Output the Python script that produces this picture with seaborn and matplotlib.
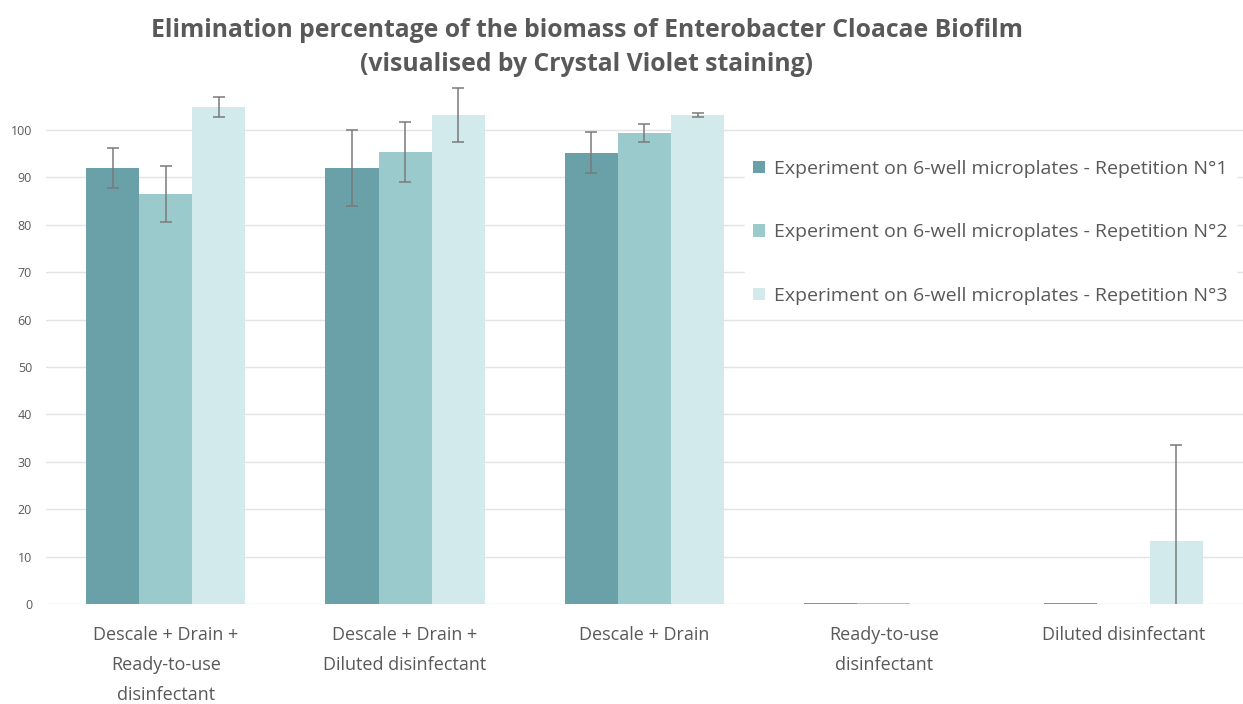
import pandas as pd
import matplotlib.pyplot as plt
import seaborn as sns

# Values
treatments = ["Descale + Drain +\nReady-to-use\ndisinfectant",
              "Descale + Drain +\nDiluted disinfectant",
              "Descale + Drain",
              "Ready-to-use\ndisinfectant",
              "Diluted disinfectant"]
series = ["Experiment on 6-well microplates - Repetition N°1",
          "Experiment on 6-well microplates - Repetition N°2",
          "Experiment on 6-well microplates - Repetition N°3"]
rep1 = [92.0, 92.0, 95.2, 0.3, 0.2]
rep2 = [86.5, 95.4, 99.4, 0.2, 0.1]
rep3 = [104.9, 103.2, 103.2, 0.0, 13.2]
err1 = [4.2, 8.0, 4.3, 0.0, 0.0]
err2 = [5.9, 6.3, 1.9, 0.0, 0.0]
err3 = [2.1, 5.7, 0.5, 0.0, 20.3]

colors = ["#6aa1a9", "#9bcacc", "#d3eaed"]

rows = []
for s, vals in zip(series, [rep1, rep2, rep3]):
    for t, v in zip(treatments, vals):
        rows.append({"Treatment": t, "Series": s, "Value": v})
df = pd.DataFrame(rows)

sns.set_style("white")
plt.rcParams['font.family'] = ['Open Sans', 'DejaVu Sans']

fig = plt.figure(figsize=(12.43, 7.04), dpi=100)
ax = fig.add_axes([0.037, 0.142, 0.963, 0.754])

sns.barplot(data=df, x="Treatment", y="Value", hue="Series", palette=colors,
            errorbar=None, width=0.665, saturation=1, linewidth=0, ax=ax)

# error bars on top of each bar
for cont, errs in zip(ax.containers, [err1, err2, err3]):
    for bar, e in zip(cont, errs):
        if e > 0:
            ax.errorbar(bar.get_x() + bar.get_width() / 2, bar.get_height(), yerr=e,
                        color="#7a7a7a", elinewidth=1.1, capsize=4, capthick=1.1)

ax.set_ylim(0, 112)
ax.set_xlim(-0.5, 4.5)
ax.set_yticks(range(0, 101, 10))
ax.yaxis.grid(True, color="#e3e3e3", linewidth=1)
ax.set_axisbelow(True)
for sp in ax.spines.values():
    sp.set_visible(False)
ax.tick_params(axis='y', labelsize=9, colors="#595959", length=0, pad=10)
ax.tick_params(axis='x', labelsize=13, colors="#595959", length=0, pad=16)
for lbl in ax.get_xticklabels():
    lbl.set_linespacing(1.85)
ax.set_xlabel("")
ax.set_ylabel("")

leg = ax.legend(loc="upper right", bbox_to_anchor=(1.002, 0.87), frameon=True,
                framealpha=1, edgecolor="white", fontsize=14, labelspacing=2.35,
                handlelength=0.6, handleheight=0.6, handletextpad=0.5,
                labelcolor="#595959")

fig.suptitle("Elimination percentage of the biomass of Enterobacter Cloacae Biofilm\n"
             "(visualised by Crystal Violet staining)",
             x=0.472, y=0.975, fontsize=17.8, fontweight="bold", color="#595959",
             linespacing=1.5)

plt.savefig("out.png", dpi=100)
